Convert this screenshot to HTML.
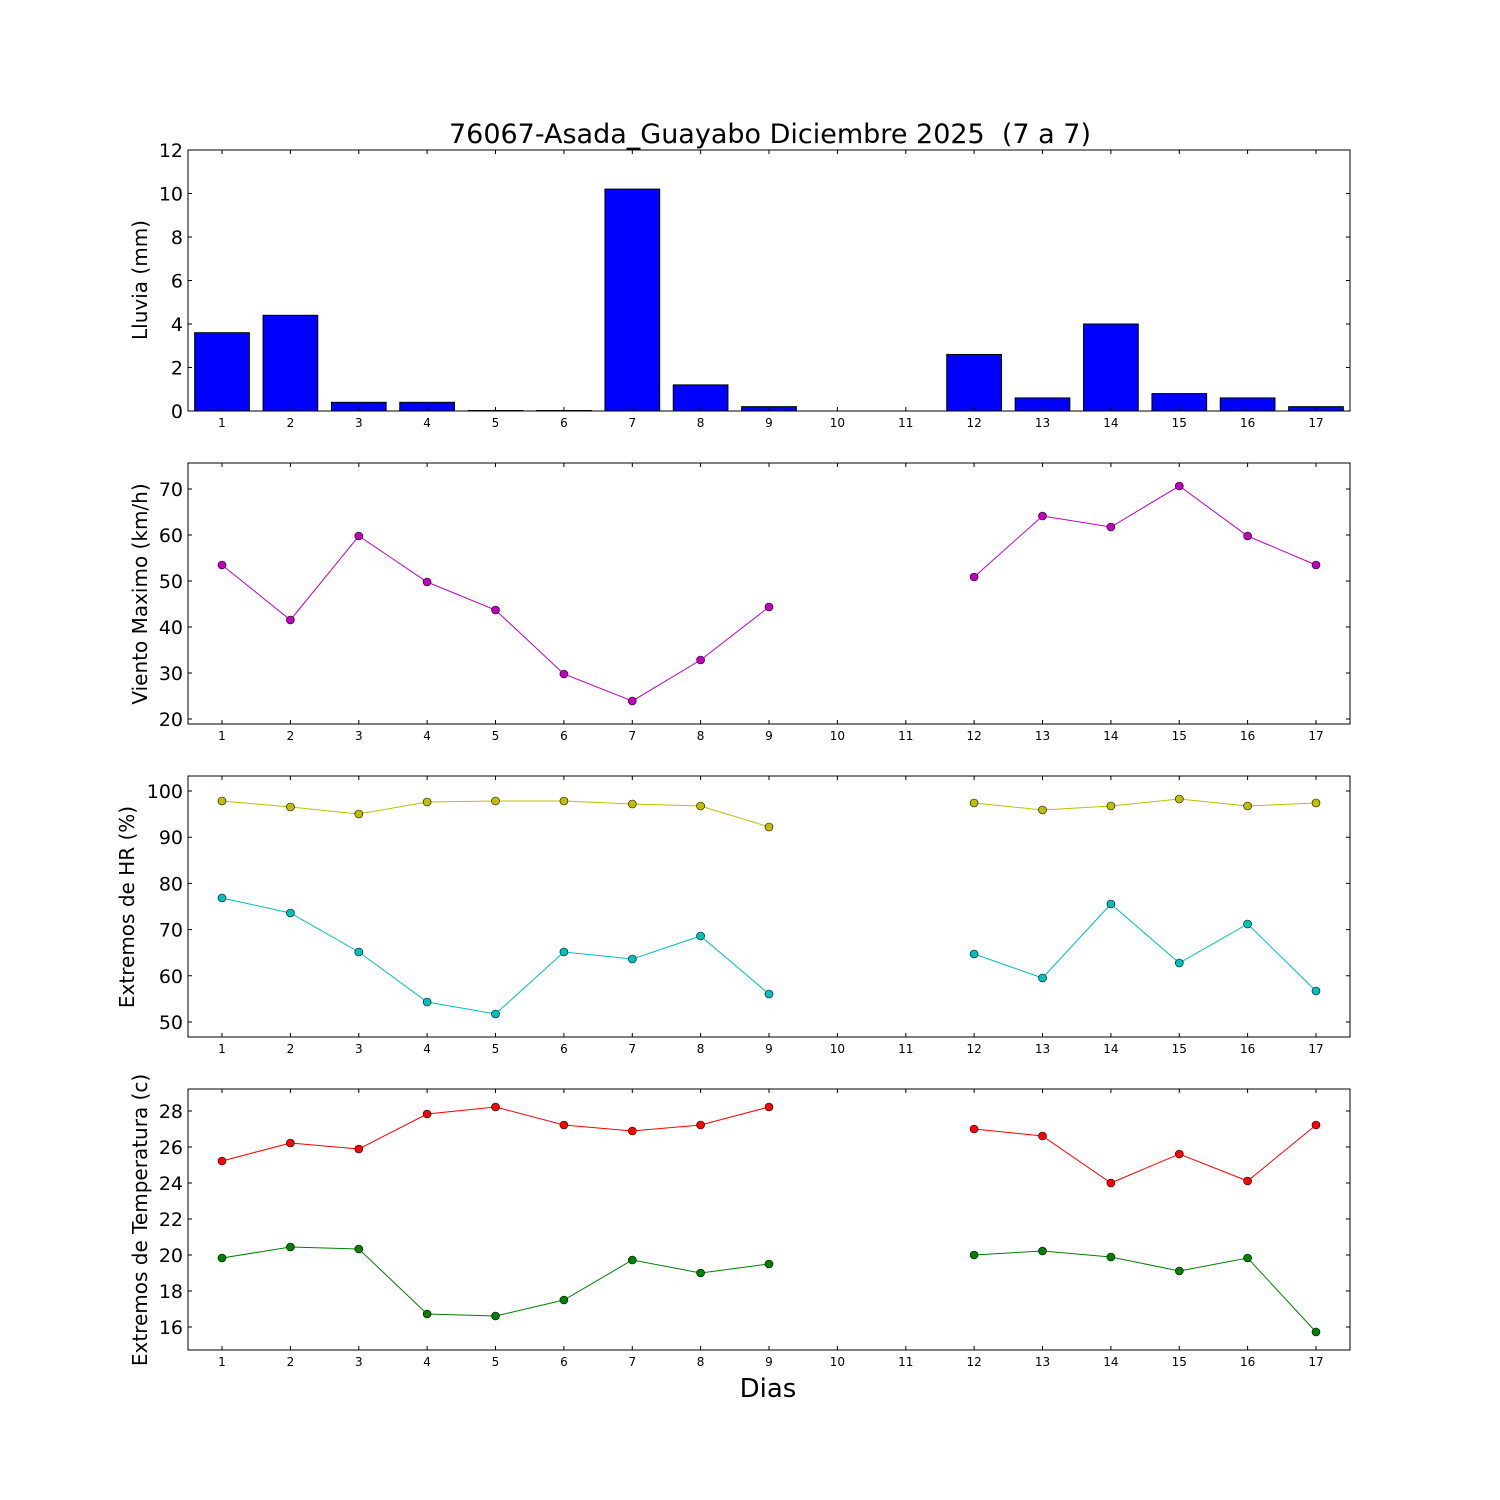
<!DOCTYPE html>
<html><head><meta charset="utf-8"><style>body{margin:0;background:#fff}svg{display:block}text{font-family:"DejaVu Sans","Liberation Sans",sans-serif}</style></head><body>
<svg width="1500" height="1500" viewBox="0 0 1500 1500" xmlns="http://www.w3.org/2000/svg">
<defs>
<path id="xt" d="M222 0v4M290.4 0v4M358.8 0v4M427.1 0v4M495.5 0v4M563.9 0v4M632.3 0v4M700.6 0v4M769 0v4M837.4 0v4M905.8 0v4M974.1 0v4M1042.5 0v4M1110.9 0v4M1179.3 0v4M1247.6 0v4M1316 0v4M222 261v-4M290.4 261v-4M358.8 261v-4M427.1 261v-4M495.5 261v-4M563.9 261v-4M632.3 261v-4M700.6 261v-4M769 261v-4M837.4 261v-4M905.8 261v-4M974.1 261v-4M1042.5 261v-4M1110.9 261v-4M1179.3 261v-4M1247.6 261v-4M1316 261v-4" stroke="#000" fill="none"/>
<g id="xl" font-size="12" text-anchor="middle"><text x="222" y="0">1</text><text x="290.4" y="0">2</text><text x="358.8" y="0">3</text><text x="427.1" y="0">4</text><text x="495.5" y="0">5</text><text x="563.9" y="0">6</text><text x="632.3" y="0">7</text><text x="700.6" y="0">8</text><text x="769" y="0">9</text><text x="837.4" y="0">10</text><text x="905.8" y="0">11</text><text x="974.1" y="0">12</text><text x="1042.5" y="0">13</text><text x="1110.9" y="0">14</text><text x="1179.3" y="0">15</text><text x="1247.6" y="0">16</text><text x="1316" y="0">17</text></g>
</defs>
<text x="770" y="143" font-size="27" text-anchor="middle">76067-Asada_Guayabo Diciembre 2025&#160; (7 a 7)</text>
<!-- Panel 1 -->
<g fill="#0000ff" stroke="#000" stroke-width="1">
<rect x="194.65" y="332.7" width="54.7" height="78.3"/><rect x="263.05" y="315.3" width="54.7" height="95.7"/><rect x="331.45" y="402.3" width="54.7" height="8.7"/><rect x="399.75" y="402.3" width="54.7" height="8.7"/><rect x="468.15" y="410.5" width="54.7" height="0.5"/><rect x="536.55" y="410.5" width="54.7" height="0.5"/><rect x="604.95" y="189.1" width="54.7" height="221.9"/><rect x="673.25" y="384.9" width="54.7" height="26.1"/><rect x="741.65" y="406.65" width="54.7" height="4.35"/><rect x="946.75" y="354.45" width="54.7" height="56.55"/><rect x="1015.15" y="397.95" width="54.7" height="13.05"/><rect x="1083.55" y="324" width="54.7" height="87"/><rect x="1151.95" y="393.6" width="54.7" height="17.4"/><rect x="1220.25" y="397.95" width="54.7" height="13.05"/><rect x="1288.65" y="406.65" width="54.7" height="4.35"/>
</g>
<rect x="188" y="150" width="1162" height="261" fill="none" stroke="#000"/>
<use href="#xt" transform="translate(0,150)"/><use href="#xl" transform="translate(0,427)"/>
<path d="M188 411h4M188 367.5h4M188 324h4M188 280.5h4M188 237h4M188 193.5h4M188 150h4M1350 411h-4M1350 367.5h-4M1350 324h-4M1350 280.5h-4M1350 237h-4M1350 193.5h-4M1350 150h-4" stroke="#000"/>
<g font-size="19" text-anchor="end"><text x="183" y="418">0</text><text x="183" y="374.5">2</text><text x="183" y="331">4</text><text x="183" y="287.5">6</text><text x="183" y="244">8</text><text x="183" y="200.5">10</text><text x="183" y="157">12</text></g>
<text transform="translate(147,280) rotate(-90)" font-size="20" text-anchor="middle">Lluvia (mm)</text>
<!-- Panel 2 -->
<g stroke="#bf00bf" fill="none"><polyline points="222,565 290.4,620 358.8,536 427.1,582 495.5,610 563.9,674 632.3,701 700.6,660 769,607"/><polyline points="974.1,577 1042.5,516 1110.9,527 1179.3,486 1247.6,536 1316,565"/></g>
<g fill="#bf00bf" stroke="#000" stroke-width="0.6"><circle cx="222" cy="565" r="4"/><circle cx="290.4" cy="620" r="4"/><circle cx="358.8" cy="536" r="4"/><circle cx="427.1" cy="582" r="4"/><circle cx="495.5" cy="610" r="4"/><circle cx="563.9" cy="674" r="4"/><circle cx="632.3" cy="701" r="4"/><circle cx="700.6" cy="660" r="4"/><circle cx="769" cy="607" r="4"/><circle cx="974.1" cy="577" r="4"/><circle cx="1042.5" cy="516" r="4"/><circle cx="1110.9" cy="527" r="4"/><circle cx="1179.3" cy="486" r="4"/><circle cx="1247.6" cy="536" r="4"/><circle cx="1316" cy="565" r="4"/></g>
<rect x="188" y="463" width="1162" height="261" fill="none" stroke="#000"/>
<use href="#xt" transform="translate(0,463)"/><use href="#xl" transform="translate(0,740)"/>
<path d="M188 719h4M188 673h4M188 627h4M188 581h4M188 535h4M188 489h4M1350 719h-4M1350 673h-4M1350 627h-4M1350 581h-4M1350 535h-4M1350 489h-4" stroke="#000"/>
<g font-size="19" text-anchor="end"><text x="183" y="726">20</text><text x="183" y="680">30</text><text x="183" y="634">40</text><text x="183" y="588">50</text><text x="183" y="542">60</text><text x="183" y="496">70</text></g>
<text transform="translate(147,594) rotate(-90)" font-size="20" text-anchor="middle">Viento Maximo (km/h)</text>
<!-- Panel 3 -->
<g fill="none"><polyline stroke="#bfbf00" points="222,801 290.4,807 358.8,814 427.1,802 495.5,801 563.9,801 632.3,804 700.6,806 769,827"/><polyline stroke="#bfbf00" points="974.1,803 1042.5,810 1110.9,806 1179.3,799 1247.6,806 1316,803"/><polyline stroke="#00bfbf" points="222,898 290.4,913 358.8,952 427.1,1002 495.5,1014 563.9,952 632.3,959 700.6,936 769,994"/><polyline stroke="#00bfbf" points="974.1,954 1042.5,978 1110.9,904 1179.3,963 1247.6,924 1316,991"/></g>
<g fill="#bfbf00" stroke="#000" stroke-width="0.6"><circle cx="222" cy="801" r="4"/><circle cx="290.4" cy="807" r="4"/><circle cx="358.8" cy="814" r="4"/><circle cx="427.1" cy="802" r="4"/><circle cx="495.5" cy="801" r="4"/><circle cx="563.9" cy="801" r="4"/><circle cx="632.3" cy="804" r="4"/><circle cx="700.6" cy="806" r="4"/><circle cx="769" cy="827" r="4"/><circle cx="974.1" cy="803" r="4"/><circle cx="1042.5" cy="810" r="4"/><circle cx="1110.9" cy="806" r="4"/><circle cx="1179.3" cy="799" r="4"/><circle cx="1247.6" cy="806" r="4"/><circle cx="1316" cy="803" r="4"/></g>
<g fill="#00bfbf" stroke="#000" stroke-width="0.6"><circle cx="222" cy="898" r="4"/><circle cx="290.4" cy="913" r="4"/><circle cx="358.8" cy="952" r="4"/><circle cx="427.1" cy="1002" r="4"/><circle cx="495.5" cy="1014" r="4"/><circle cx="563.9" cy="952" r="4"/><circle cx="632.3" cy="959" r="4"/><circle cx="700.6" cy="936" r="4"/><circle cx="769" cy="994" r="4"/><circle cx="974.1" cy="954" r="4"/><circle cx="1042.5" cy="978" r="4"/><circle cx="1110.9" cy="904" r="4"/><circle cx="1179.3" cy="963" r="4"/><circle cx="1247.6" cy="924" r="4"/><circle cx="1316" cy="991" r="4"/></g>
<rect x="188" y="776" width="1162" height="261" fill="none" stroke="#000"/>
<use href="#xt" transform="translate(0,776)"/><use href="#xl" transform="translate(0,1053)"/>
<path d="M188 1022h4M188 975.8h4M188 929.6h4M188 883.4h4M188 837.2h4M188 791h4M1350 1022h-4M1350 975.8h-4M1350 929.6h-4M1350 883.4h-4M1350 837.2h-4M1350 791h-4" stroke="#000"/>
<g font-size="19" text-anchor="end"><text x="183" y="1029">50</text><text x="183" y="982.8">60</text><text x="183" y="936.6">70</text><text x="183" y="890.4">80</text><text x="183" y="844.2">90</text><text x="183" y="798">100</text></g>
<text transform="translate(134,907) rotate(-90)" font-size="20" text-anchor="middle">Extremos de HR (%)</text>
<!-- Panel 4 -->
<g fill="none"><polyline stroke="#ff0000" points="222,1161 290.4,1143 358.8,1149 427.1,1114 495.5,1107 563.9,1125 632.3,1131 700.6,1125 769,1107"/><polyline stroke="#ff0000" points="974.1,1129 1042.5,1136 1110.9,1183 1179.3,1154 1247.6,1181 1316,1125"/><polyline stroke="#008000" points="222,1258 290.4,1247 358.8,1249 427.1,1314 495.5,1316 563.9,1300 632.3,1260 700.6,1273 769,1264"/><polyline stroke="#008000" points="974.1,1255 1042.5,1251 1110.9,1257 1179.3,1271 1247.6,1258 1316,1332"/></g>
<g fill="#ff0000" stroke="#000" stroke-width="0.6"><circle cx="222" cy="1161" r="4"/><circle cx="290.4" cy="1143" r="4"/><circle cx="358.8" cy="1149" r="4"/><circle cx="427.1" cy="1114" r="4"/><circle cx="495.5" cy="1107" r="4"/><circle cx="563.9" cy="1125" r="4"/><circle cx="632.3" cy="1131" r="4"/><circle cx="700.6" cy="1125" r="4"/><circle cx="769" cy="1107" r="4"/><circle cx="974.1" cy="1129" r="4"/><circle cx="1042.5" cy="1136" r="4"/><circle cx="1110.9" cy="1183" r="4"/><circle cx="1179.3" cy="1154" r="4"/><circle cx="1247.6" cy="1181" r="4"/><circle cx="1316" cy="1125" r="4"/></g>
<g fill="#008000" stroke="#000" stroke-width="0.6"><circle cx="222" cy="1258" r="4"/><circle cx="290.4" cy="1247" r="4"/><circle cx="358.8" cy="1249" r="4"/><circle cx="427.1" cy="1314" r="4"/><circle cx="495.5" cy="1316" r="4"/><circle cx="563.9" cy="1300" r="4"/><circle cx="632.3" cy="1260" r="4"/><circle cx="700.6" cy="1273" r="4"/><circle cx="769" cy="1264" r="4"/><circle cx="974.1" cy="1255" r="4"/><circle cx="1042.5" cy="1251" r="4"/><circle cx="1110.9" cy="1257" r="4"/><circle cx="1179.3" cy="1271" r="4"/><circle cx="1247.6" cy="1258" r="4"/><circle cx="1316" cy="1332" r="4"/></g>
<rect x="188" y="1089" width="1162" height="261" fill="none" stroke="#000"/>
<use href="#xt" transform="translate(0,1089)"/><use href="#xl" transform="translate(0,1366)"/>
<path d="M188 1327h4M188 1291h4M188 1255h4M188 1219h4M188 1183h4M188 1147h4M188 1111h4M1350 1327h-4M1350 1291h-4M1350 1255h-4M1350 1219h-4M1350 1183h-4M1350 1147h-4M1350 1111h-4" stroke="#000"/>
<g font-size="19" text-anchor="end"><text x="183" y="1334">16</text><text x="183" y="1298">18</text><text x="183" y="1262">20</text><text x="183" y="1226">22</text><text x="183" y="1190">24</text><text x="183" y="1154">26</text><text x="183" y="1118">28</text></g>
<text transform="translate(147,1220) rotate(-90)" font-size="20" text-anchor="middle">Extremos de Temperatura (c)</text>
<text x="768" y="1397" font-size="26" text-anchor="middle">Dias</text>
</svg>
</body></html>
